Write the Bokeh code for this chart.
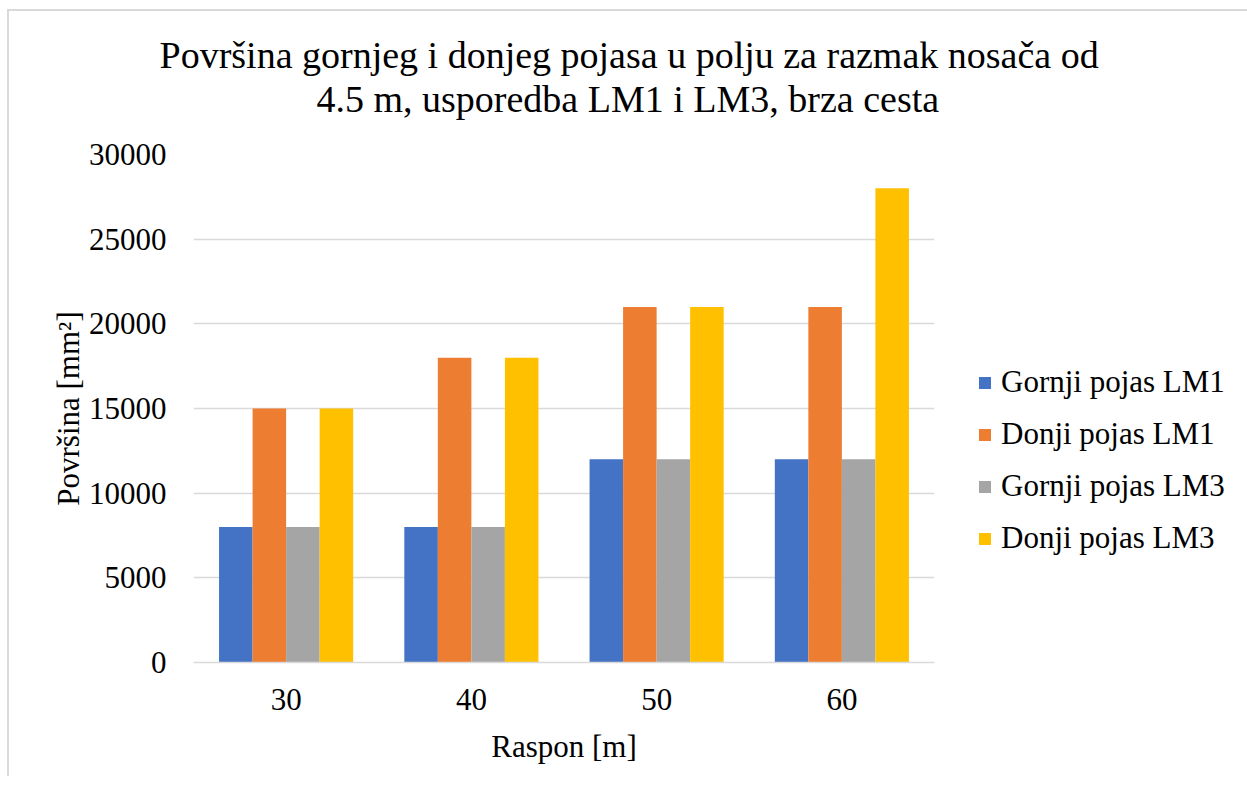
from bokeh.plotting import figure
from bokeh.models import FactorRange, Range1d, Title, SingleIntervalTicker, ColumnDataSource, Legend
from bokeh.transform import dodge
from bokeh.embed import file_html
from bokeh.resources import INLINE

# ---- data ----
spans = ["30", "40", "50", "60"]
gornji_lm1 = [8000, 8000, 12000, 12000]
donji_lm1 = [15000, 18000, 21000, 21000]
gornji_lm3 = [8000, 8000, 12000, 12000]
donji_lm3 = [15000, 18000, 21000, 28000]
series_names = ["Gornji pojas LM1", "Donji pojas LM1", "Gornji pojas LM3", "Donji pojas LM3"]
series_colors = ["#4472C4", "#ED7D31", "#A5A5A5", "#FFC000"]
title_lines = ["Površina gornjeg i donjeg pojasa u polju za razmak nosača od",
               "4.5 m, usporedba LM1 i LM3, brza cesta"]
x_label = "Raspon [m]"
y_label = "Površina [mm²]"

FONT = "Liberation Serif"

src = ColumnDataSource(dict(span=spans, g1=gornji_lm1, d1=donji_lm1, g3=gornji_lm3, d3=donji_lm3))

p = figure(x_range=FactorRange(*spans, range_padding=0), y_range=Range1d(0, 30000),
           width=1229, height=765, frame_width=741, frame_height=508,
           min_border_left=184, min_border_top=143, min_border_right=304, min_border_bottom=114,
           output_backend="svg", toolbar_location=None, tools="")
p.styles = {"border-left": "2px solid #d9d9d9", "border-top": "2px solid #d9d9d9",
            "margin-top": "9px", "margin-left": "7px"}

bw = 0.181
offsets = [-1.5 * bw, -0.5 * bw, 0.5 * bw, 1.5 * bw]
cols = ["g1", "d1", "g3", "d3"]
items = []
for col, off, name, color in zip(cols, offsets, series_names, series_colors):
    r = p.vbar(x=dodge("span", off, range=p.x_range), top=col, width=bw, source=src,
               fill_color=color, line_color=None)
    items.append((name, [r]))

p.outline_line_color = None
p.xgrid.grid_line_color = None
p.ygrid.grid_line_color = "#D9D9D9"
p.ygrid.grid_line_width = 1.5
p.yaxis.ticker = SingleIntervalTicker(interval=5000)

for ax in (p.xaxis[0], p.yaxis[0]):
    ax.major_tick_line_color = None
    ax.minor_tick_line_color = None
    ax.major_label_text_font = FONT
    ax.major_label_text_font_size = "31px"
    ax.major_label_text_color = "#000000"
    ax.axis_label_text_font = FONT
    ax.axis_label_text_font_size = "31px"
    ax.axis_label_text_font_style = "normal"
    ax.axis_label_text_color = "#000000"

p.xaxis.axis_line_color = "#D9D9D9"
p.xaxis.axis_line_width = 1.5
p.yaxis.axis_line_color = None
p.xaxis.axis_label = x_label
p.yaxis.axis_label = y_label
p.xaxis.major_label_standoff = 20
p.xaxis.axis_label_standoff = 16
p.yaxis.major_label_standoff = 21
p.yaxis.axis_label_standoff = 0

# title lines (line 2 first: later-added titles sit further out)
p.add_layout(Title(text=title_lines[1], align="left", offset=123, standoff=70,
                   text_font=FONT, text_font_size="38px", text_font_style="normal",
                   text_color="#000000"), "above")
p.add_layout(Title(text=title_lines[0], align="left", offset=-34, standoff=-70,
                   text_font=FONT, text_font_size="38px", text_font_style="normal",
                   text_color="#000000"), "above")

lg = Legend(items=items, location=(43, 106))
lg.border_line_color = None
lg.background_fill_alpha = 0
lg.padding = 0
lg.margin = 0
lg.glyph_width = 15
lg.glyph_height = 15
lg.label_standoff = 9
lg.spacing = 16
lg.label_text_font = FONT
lg.label_text_font_size = "31px"
lg.label_text_color = "#000000"
p.add_layout(lg, "right")

open("out.html", "w").write(file_html(p, INLINE))
